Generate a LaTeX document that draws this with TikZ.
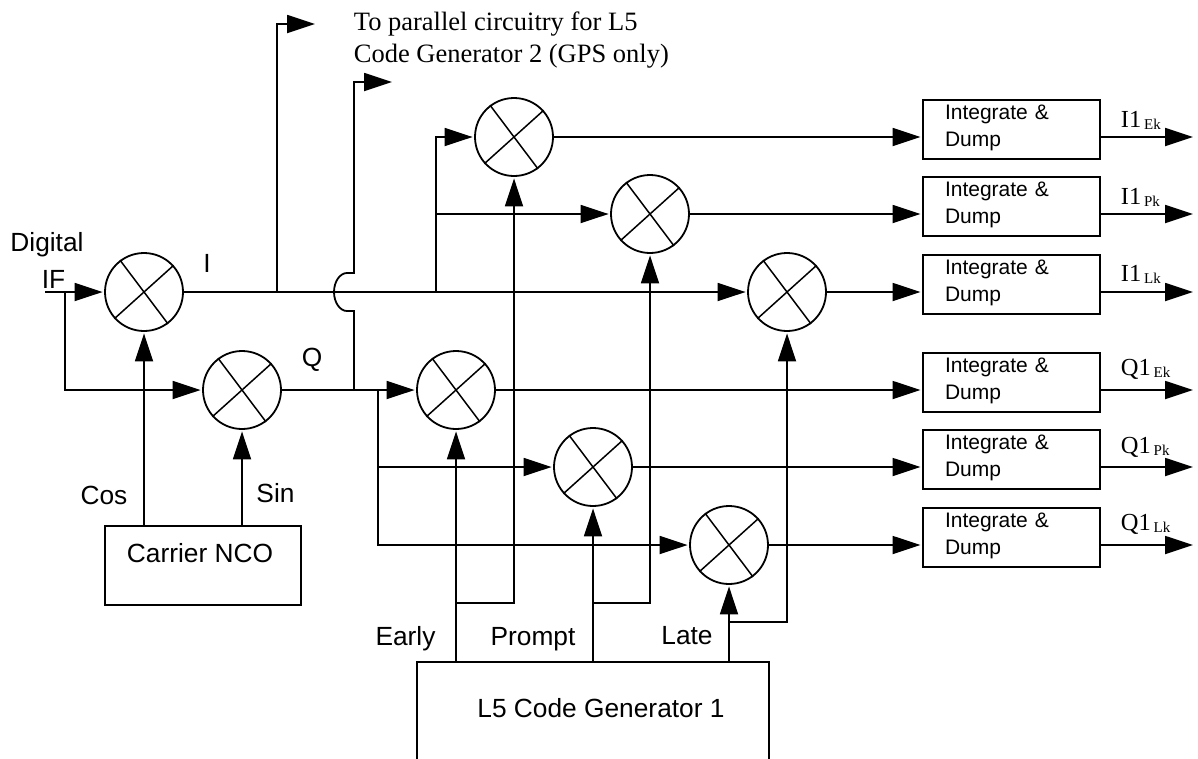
\documentclass[tikz,border=0pt]{standalone}
\usepackage{fontspec}
\setmainfont{Liberation Sans}
\newfontfamily\serfam{Liberation Serif}
\usetikzlibrary{arrows.meta,calc}

\begin{document}
\begin{tikzpicture}[
    x=1pt, y=-1pt, line width=1.8pt,
    >={Triangle[length=28pt,width=18pt]},
    mixer/.style={circle, draw, minimum size=78pt, inner sep=0pt},
    idbox/.style={rectangle, draw, line width=2pt, minimum width=177pt, minimum height=59pt, inner sep=0pt,
                  text width=133pt, align=left, font=\fontsize{21}{27}\selectfont, text depth=35.5pt},
    genbox/.style={rectangle, draw, minimum width=352pt, minimum height=130pt, anchor=north},
    ncobox/.style={rectangle, draw, minimum width=196pt, minimum height=79pt},
    arr/.style={->, shorten >=1.5pt},
    lbl/.style={font=\fontsize{26.3}{30}\selectfont, inner sep=0pt},
    slbl/.style={font=\fontsize{26.5}{32}\serfam, inner sep=0pt, align=left},
    olbl/.style={font=\fontsize{24.5}{30}\serfam, inner sep=0pt, anchor=base west},
    sub/.style={font=\fontsize{15}{15}\serfam, inner sep=0pt, anchor=base west}
  ]
    \useasboundingbox (0,0) rectangle (1198,758);

    %--- Mixers ---
    \node[mixer] (mi)  at (144,292) {};
    \node[mixer] (mq)  at (242,390) {};
    \node[mixer] (mIe) at (514,137) {};
    \node[mixer] (mIp) at (650,214) {};
    \node[mixer] (mIl) at (787,292) {};
    \node[mixer] (mQe) at (456,390) {};
    \node[mixer] (mQp) at (593,467) {};
    \node[mixer] (mQl) at (729,545) {};
    \foreach \m in {mi,mq,mIe,mIp,mIl,mQe,mQp,mQl}
      \draw[line width=1.5pt] (\m.127) -- (\m.-53) (\m.42) -- (\m.222);

    %--- Integrate and dump boxes ---
    \foreach \n/\y in {Ie/137,Ip/214,Il/292,Qe/390,Qp/467,Ql/545}
      \node[idbox] (d\n) at (1011.5,\y-7.5) {Integrate \&\\Dump};

    %--- Other blocks ---
    \node[ncobox] (nco) at (203,565.5) {};
    \node[lbl] (ncotxt) at (200,553) {Carrier NCO};
    \node[genbox] (gen) at (593,661) {};
    \node[lbl] (gentxt) at (601,708) {L5 Code Generator 1};

    %--- Free ends ---
    \coordinate (if)  at (45,292);
    \coordinate (tp1) at (315,24);
    \coordinate (tp2) at (392,82);
    \coordinate (c1)  at (277,292);
    \coordinate (c2)  at (354,390);
    \coordinate (c3)  at (436,292);
    \coordinate (c4)  at (378,390);
    \coordinate (c5)  at (65,292);

    %--- Input and carrier ---
    \draw[arr] (if) -- (mi.west);
    \draw[arr] (c5) |- (mq.west);
    \draw[arr] (mi.south |- nco.north) -- (mi.south);
    \draw[arr] (mq.south |- nco.north) -- (mq.south);

    %--- I and Q rails ---
    \draw[arr] (mi.east) -- (mIl.west);
    \draw[arr] (mq.east) -- (mQe.west);
    \draw[->] (c1) |- (tp1);
    \draw[->] (c2) -- (354,311) -- (347,311)
        .. controls (340,311) and (334,302.5) .. (334,292)
        .. controls (334,281.5) and (340,273) .. (347,273)
        -- (354,273) |- (tp2);
    \draw[arr] (c3) |- (mIe.west);
    \draw[arr] (c3 |- mIp.west) -- (mIp.west);
    \draw[arr] (c4) |- (mQl.west);
    \draw[arr] (c4 |- mQp.west) -- (mQp.west);

    %--- Code lines ---
    \draw[arr] (gen.north -| mQe.south) -- (mQe.south);
    \draw[arr] (gen.north -| mQp.south) -- (mQp.south);
    \draw[arr] (gen.north -| mQl.south) -- (mQl.south);
    \draw[arr] (mQe.south |- 0,603) -| (mIe.south);
    \draw[arr] (mQp.south |- 0,603) -| (mIp.south);
    \draw[arr] (mQl.south |- 0,622) -| (mIl.south);

    %--- Mixer to dump, dump to output ---
    \foreach \n in {Ie,Ip,Il,Qe,Qp,Ql} {
      \draw[arr] (m\n.east) -- (m\n.east -| d\n.west);
      \coordinate (o\n) at (1193,0);
      \draw[->] (m\n.east -| d\n.east) -- (m\n.east -| o\n);
    }

    %--- Labels ---
    \node[lbl] (ldig) at (47,245) {Digital};
    \node[lbl] (lif)  at (53.5,279) {IF};
    \node[lbl] (li)   at (207,263) {I};
    \node[lbl] (lq)   at (312,360) {Q};
    \node[lbl] (lcos) at (104,495) {Cos};
    \node[lbl] (lsin) at (275.5,493) {Sin};
    \node[lbl] (lear) at (405.5,639) {Early};
    \node[lbl] (lpro) at (533,639) {Prompt};
    \node[lbl] (llat) at (687,636) {Late};
    \node[slbl, anchor=north west] (ltxt) at (353,11)
        {To parallel circuitry for L5\\Code Generator 2 (GPS only)};
    \foreach \n/\t/\s/\y in {Ie/I1/Ek/127,Ip/I1/Pk/204,Il/I1/Lk/281,Qe/Q1/Ek/375,Qp/Q1/Pk/453,Ql/Q1/Lk/530} {
      \node[olbl] (l\n) at (1120,\y) {\t};
      \node[sub, xshift=1pt, yshift=-2pt] (s\n) at (l\n.base east) {\s};
    }
  \end{tikzpicture}
\end{document}
